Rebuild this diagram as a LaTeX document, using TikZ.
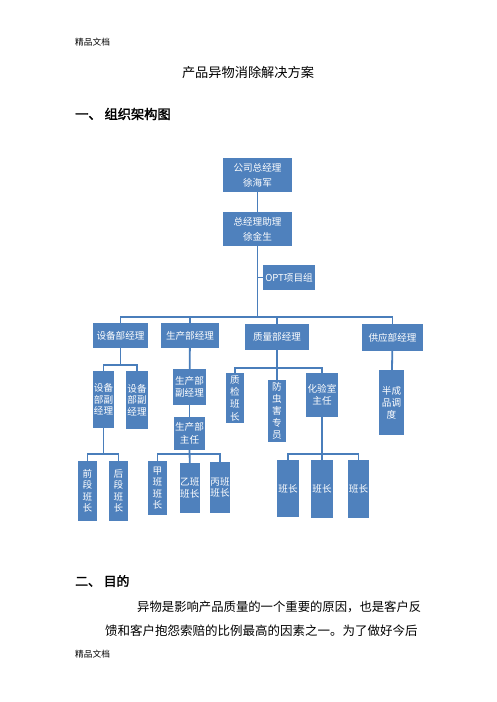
\documentclass[tikz,border=0pt]{standalone}
\usepackage{fontspec}
\setmainfont{Noto Sans CJK SC}
\newfontfamily\cjkbold[FakeBold=2]{Noto Sans CJK SC}
\definecolor{orgblue}{HTML}{4F81BD}
\definecolor{orgline}{HTML}{4A7EBB}

\begin{document}
\begin{tikzpicture}[x=1pt, y=-1pt,
    orgbox/.style={rectangle, fill=orgblue, text=white,
      inner sep=0pt, align=center,
      font=\fontsize{9.6}{11.5}\selectfont},
    link/.style={draw=orgline, line width=1.8pt},
    doctext/.style={anchor=west, inner sep=0pt}]

    \useasboundingbox (0,0) rectangle (496,702);

    % page text
    \node[doctext, font=\fontsize{8.7}{10}\selectfont] (head) at (75,42) {精品文档};
    \node[inner sep=0pt, font=\fontsize{13.2}{15}\selectfont] (title) at (248,72) {产品异物消除解决方案};
    \node[doctext, font=\cjkbold\fontsize{13.2}{15}\selectfont] (sec1) at (75,114) {一、\hspace{3pt}组织架构图};

    % top of the chart
    \node[orgbox,
    minimum width=69pt,
    minimum height=34pt,
    font=\fontsize{9.6}{15}\selectfont] (gm) at (257.5,175) {公司总经理\\徐海军};

    \node[orgbox,
    minimum width=69pt,
    minimum height=34pt,
    font=\fontsize{9.6}{15}\selectfont] (asst) at (257.5,229) {总经理助理\\徐金生};

    \node[orgbox,
    minimum width=52pt,
    minimum height=25pt] (opt) at (289,277.5) {OPT项目组};

    \coordinate (bus) at (257.5,317);

    % department managers
    \node[orgbox, minimum width=55pt, minimum height=25pt] (eq) at (120.5,335.5) {设备部经理};
    \node[orgbox, minimum width=58pt, minimum height=25pt] (pm) at (190,335.5) {生产部经理};
    \node[orgbox, minimum width=64pt, minimum height=26pt] (qm) at (277,337) {质量部经理};
    \node[orgbox, minimum width=61pt, minimum height=27pt] (sm) at (392.5,337.5) {供应部经理};

    % third level
    \node[orgbox, minimum width=21pt, minimum height=57pt] (ev1) at (103.5,399.5) {设备\\部副\\经理};
    \node[orgbox, minimum width=22pt, minimum height=58pt] (ev2) at (137,400) {设备\\部副\\经理};
    \node[orgbox, minimum width=33pt, minimum height=36pt] (pv) at (189.5,387) {生产部\\副经理};
    \node[orgbox, minimum width=31pt, minimum height=33pt,
      font=\fontsize{9.6}{13}\selectfont] (pd) at (189.5,433.5) {生产部\\主任};
    \node[orgbox, minimum width=18pt, minimum height=50pt,
      font=\fontsize{9.6}{12.3}\selectfont] (qc) at (235,398) {质\\检\\班\\长};
    \node[orgbox, minimum width=18pt, minimum height=62pt,
      font=\fontsize{9.6}{12}\selectfont] (pest) at (277,411) {防\\虫\\害\\专\\员};
    \node[orgbox, minimum width=32pt, minimum height=44pt] (lab) at (322,395) {化验室\\主任};
    \node[orgbox, minimum width=25pt, minimum height=65pt,
      font=\fontsize{9.6}{12}\selectfont] (sched) at (391.5,402.5) {半成\\品调\\度};

    % fourth level
    \node[orgbox, minimum width=19pt, minimum height=60pt] (fa) at (87.5,491) {前\\段\\班\\长};
    \node[orgbox, minimum width=19pt, minimum height=60pt] (fb) at (118.5,491) {后\\段\\班\\长};
    \node[orgbox, minimum width=19pt, minimum height=54pt] (pa) at (157.5,488) {甲\\班\\班\\长};
    \node[orgbox, minimum width=19.5pt, minimum height=50pt] (pb) at (189.75,488) {乙班\\班长};
    \node[orgbox, minimum width=20pt, minimum height=51pt] (pc) at (220,487.5) {丙班\\班长};
    \node[orgbox, minimum width=22pt, minimum height=57pt] (la) at (288,488.5) {班长};
    \node[orgbox, minimum width=22pt, minimum height=58pt] (lb) at (322,489) {班长};
    \node[orgbox, minimum width=21pt, minimum height=58pt] (lc) at (358.5,489) {班长};

    \coordinate (eqj) at (120,365);
    \coordinate (qj) at (277,368);
    \coordinate (ej) at (103.5,454);
    \coordinate (pdj) at (189.5,454);
    \coordinate (labj) at (322,454);

    % connectors
    \draw[link] (gm)--(asst);
    \draw[link] (asst)--(bus);
    \draw[link] (opt.west)--(opt.west -| asst);
    \draw[link] (eq.north) |- (bus) -| (sm.north);
    \draw[link] (pm.north)--(pm.north |- bus);
    \draw[link] (qm.north)--(qm.north |- bus);

    \draw[link] (eq.south)--(eq.south |- eqj);
    \draw[link] (ev1.north) |- (eqj) -| (ev2.north);
    \draw[link] (pm)--(pv);
    \draw[link] (pv)--(pd);
    \draw[link] (qm)--(pest);
    \draw[link] (qc.north) |- (qj) -| (lab.north);
    \draw[link] (sm)--(sched);

    \draw[link] (ev1.south)--(ej);
    \draw[link] (fa.north) |- (ej) -| (fb.north);
    \draw[link] (pd.south)--(pb.north);
    \draw[link] (pa.north) |- (pdj) -| (pc.north);
    \draw[link] (lab)--(lb);
    \draw[link] (la.north) |- (labj) -| (lc.north);

    % text below the chart
    \node[doctext, font=\cjkbold\fontsize{12.8}{14}\selectfont] (sec2) at (75,581) {二、\hspace{3pt}目的};
    \node[doctext, font=\fontsize{12.35}{14}\selectfont] (par1) at (137,607) {异物是影响产品质量的一个重要的原因，也是客户反};
    \node[doctext, font=\fontsize{12.5}{14}\selectfont] (par2) at (105,631) {馈和客户抱怨索赔的比例最高的因素之一。为了做好今后};
    \node[doctext, font=\fontsize{8.7}{10}\selectfont] (foot) at (75,654) {精品文档};
\end{tikzpicture}
\end{document}
